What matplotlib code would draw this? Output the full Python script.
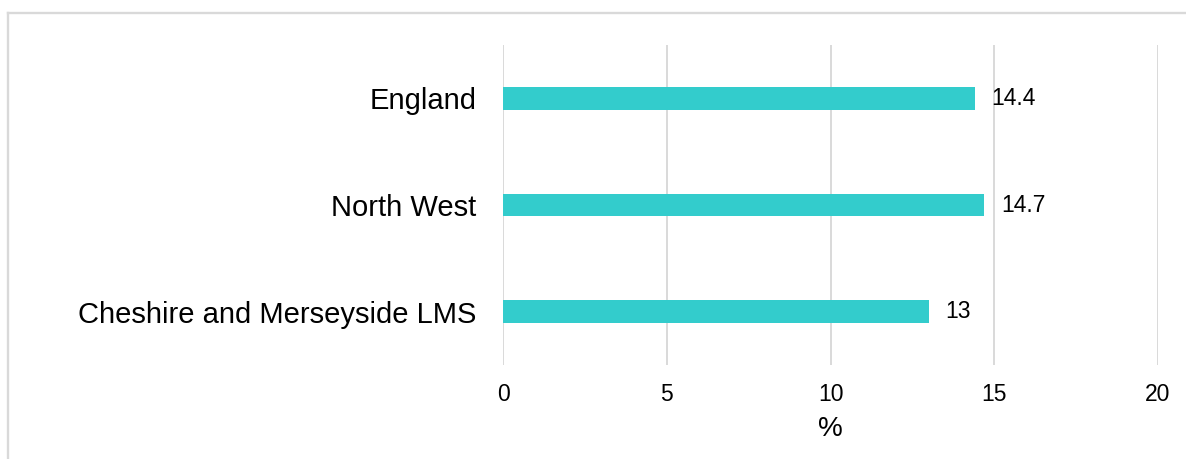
import matplotlib
matplotlib.use("Agg")
import matplotlib.pyplot as plt
from matplotlib.lines import Line2D

categories = ["Cheshire and Merseyside LMS", "North West", "England"]
values = [13, 14.7, 14.4]
value_labels = ["13", "14.7", "14.4"]
xticks = [0, 5, 10, 15, 20]

plt.rcParams['font.family'] = ['Liberation Sans', 'DejaVu Sans']

W, H = 1186, 459
fig = plt.figure(figsize=(W / 100, H / 100), dpi=100)
ax = fig.add_axes([503 / W, 1 - 365 / H, (1158 - 503) / W, (365 - 45) / H])

grid_c = "#d9d9d9"
ax.barh(range(len(categories)), values, height=0.215, color="#33cccc", zorder=3)
ax.set_xlim(0, 20)
ax.set_ylim(-0.5, len(categories) - 0.5)
ax.set_xticks(xticks)
ax.set_xticklabels([str(t) for t in xticks], fontsize=16.5)
ax.set_yticks(range(len(categories)))
ax.set_yticklabels(categories, fontsize=21)
ax.tick_params(axis="x", length=0, pad=13)
ax.tick_params(axis="y", length=0, pad=19)
ax.grid(axis="x", color=grid_c, linewidth=1.4, zorder=0)
for s in ax.spines.values():
    s.set_visible(False)

for i, (v, lab) in enumerate(zip(values, value_labels)):
    ax.annotate(lab, xy=(v, i), xytext=(12, 0), textcoords="offset points",
                va="center", ha="left", fontsize=16.5)

ax.set_xlabel("%", fontsize=20, labelpad=7)

# outer frame (top and left edges)
fig.add_artist(Line2D([8 / W, 1], [1 - 13 / H, 1 - 13 / H], transform=fig.transFigure,
                      color=grid_c, linewidth=1.7))
fig.add_artist(Line2D([8 / W, 8 / W], [0, 1 - 13 / H], transform=fig.transFigure,
                      color=grid_c, linewidth=1.7))

fig.savefig("out.png", dpi=100)
